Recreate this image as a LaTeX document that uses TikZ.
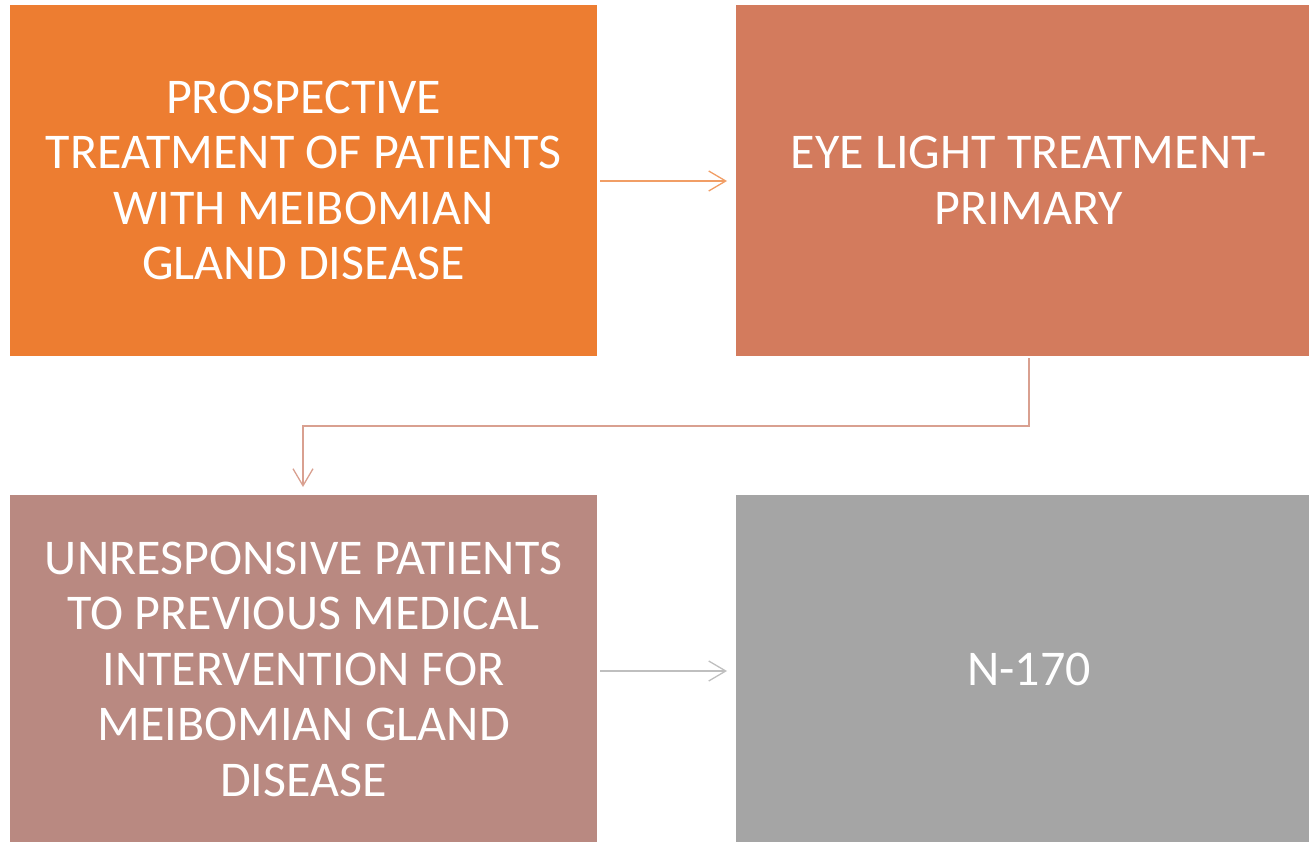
\documentclass[tikz,border=0pt]{standalone}
\usepackage{fontspec}
\setmainfont{Carlito}
\usetikzlibrary{arrows.meta}
\definecolor{cOrange}{HTML}{ED7D31}
\definecolor{cTerra}{HTML}{D37B5D}
\definecolor{cRose}{HTML}{B98981}
\definecolor{cGray}{HTML}{A5A5A5}
\definecolor{aOrange}{HTML}{F19E66}
\definecolor{aTerra}{HTML}{D9A090}
\definecolor{aGray}{HTML}{BFBFBF}
\begin{document}
\begin{tikzpicture}[x=1pt,y=1pt,
  box/.style={draw=none, inner sep=0pt, text=white, align=center,
    font=\fontsize{50}{55.5}\selectfont},
  conn/.style={line width=1.3pt, -{Straight Barb[length=17pt,width=20pt,line width=1.3pt]}}]
\useasboundingbox (0,0) rectangle (1309,-842);
\fill[cOrange] (10,-5) rectangle (597,-356);
\fill[cTerra] (736,-5) rectangle (1309,-356);
\fill[cRose] (10,-495) rectangle (597,-842);
\fill[cGray] (736,-495) rectangle (1309,-842);
\node[box] (a) at (303.5,-180.5) {PROSPECTIVE\\TREATMENT OF PATIENTS\\WITH MEIBOMIAN\\GLAND DISEASE};
\node[box] (b) at (1029,-180.5) {EYE LIGHT TREATMENT-\\PRIMARY};
\node[box] (c) at (303.5,-669) {UNRESPONSIVE PATIENTS\\TO PREVIOUS MEDICAL\\INTERVENTION FOR\\MEIBOMIAN GLAND\\DISEASE};
\node[box] (d) at (1029,-669) {N-170};
\coordinate (a1) at (600,-181);
\coordinate (b1) at (727,-181);
\coordinate (b2) at (1029,-358);
\coordinate (c2) at (303,-487);
\coordinate (c1) at (600,-671);
\coordinate (d1) at (727,-671);
\draw[conn, aOrange] (a1) -- (b1);
\draw[conn, aTerra] (b2) -- (1029,-426) -- (303,-426) -- (c2);
\draw[conn, aGray] (c1) -- (d1);
\end{tikzpicture}
\end{document}
